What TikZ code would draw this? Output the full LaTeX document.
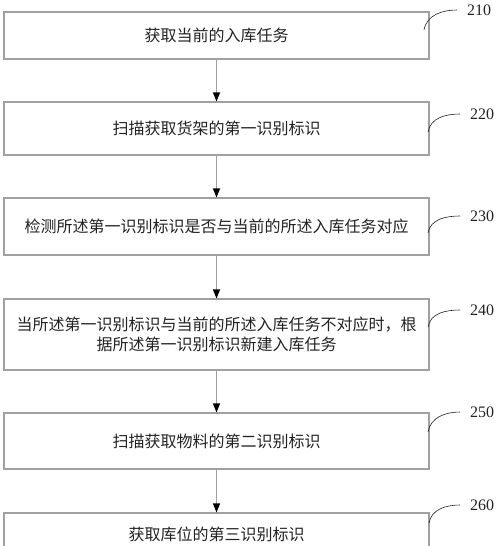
\documentclass[tikz,border=0pt]{standalone}
\usepackage{fontspec}
\setmainfont{Liberation Serif}
\newfontfamily\cjk{Noto Sans CJK SC}
\usetikzlibrary{arrows.meta}
\definecolor{boxgray}{HTML}{A0A0A0}
\definecolor{txt}{HTML}{222222}
\tikzset{
  stepbox/.style={draw=boxgray, line width=1.1pt, minimum width=425pt, inner sep=0pt,
    align=center, font=\cjk\fontsize{16}{20}\selectfont, text=txt},
  flow/.style={draw=boxgray, line width=1.1pt, -{Triangle[width=7pt,length=9pt,color=black]}},
  reflabel/.style={anchor=west, font=\fontsize{16}{18}\selectfont, text=txt, inner sep=0pt},
  refline/.style={draw=txt, line width=0.6pt}
}
\begin{document}
\begin{tikzpicture}[x=1pt,y=-1pt]
\useasboundingbox (0,0) rectangle (500,546);
\clip (0,0) rectangle (500,546);
\node[stepbox, minimum height=47pt] (b1) at (216.5,35.5) {获取当前的入库任务};
\node[stepbox, minimum height=53pt] (b2) at (216.5,128.5) {扫描获取货架的第一识别标识};
\node[stepbox, minimum height=57pt] (b3) at (216.5,226.5) {检测所述第一识别标识是否与当前的所述入库任务对应};
\node[stepbox, minimum height=71pt] (b4) at (216.5,334.5) {当所述第一识别标识与当前的所述入库任务不对应时，根\\据所述第一识别标识新建入库任务};
\node[stepbox, minimum height=56pt] (b5) at (216.5,441) {扫描获取物料的第二识别标识};
\node[stepbox, minimum height=42pt] (b6) at (216.5,534) {获取库位的第三识别标识};

\draw[flow] (b1.south) -- (b2.north);
\draw[flow] (b2.south) -- (b3.north);
\draw[flow] (b3.south) -- (b4.north);
\draw[flow] (b4.south) -- (b5.north);
\draw[flow] (b5.south) -- (b6.north);

\node[reflabel] (l1) at (467,10) {210};
\node[reflabel] (l2) at (470,114) {220};
\node[reflabel] (l3) at (470,216) {230};
\node[reflabel] (l4) at (470,310) {240};
\node[reflabel] (l5) at (470,412) {250};
\node[reflabel] (l6) at (470,505) {260};

\coordinate (c1) at (424,30);
\coordinate (c2) at (428,132);
\coordinate (c3) at (428,233);
\coordinate (c4) at (428,327);
\coordinate (c5) at (428,432);
\coordinate (c6) at (429,523);

\draw[refline] (c1) to[out=80,in=180] ([xshift=-10pt]l1.west);
\draw[refline] (c2) to[out=80,in=180] ([xshift=-10pt]l2.west);
\draw[refline] (c3) to[out=80,in=180] ([xshift=-10pt]l3.west);
\draw[refline] (c4) to[out=80,in=180] ([xshift=-10pt]l4.west);
\draw[refline] (c5) to[out=80,in=180] ([xshift=-10pt]l5.west);
\draw[refline] (c6) to[out=80,in=180] ([xshift=-10pt]l6.west);
\end{tikzpicture}
\end{document}
